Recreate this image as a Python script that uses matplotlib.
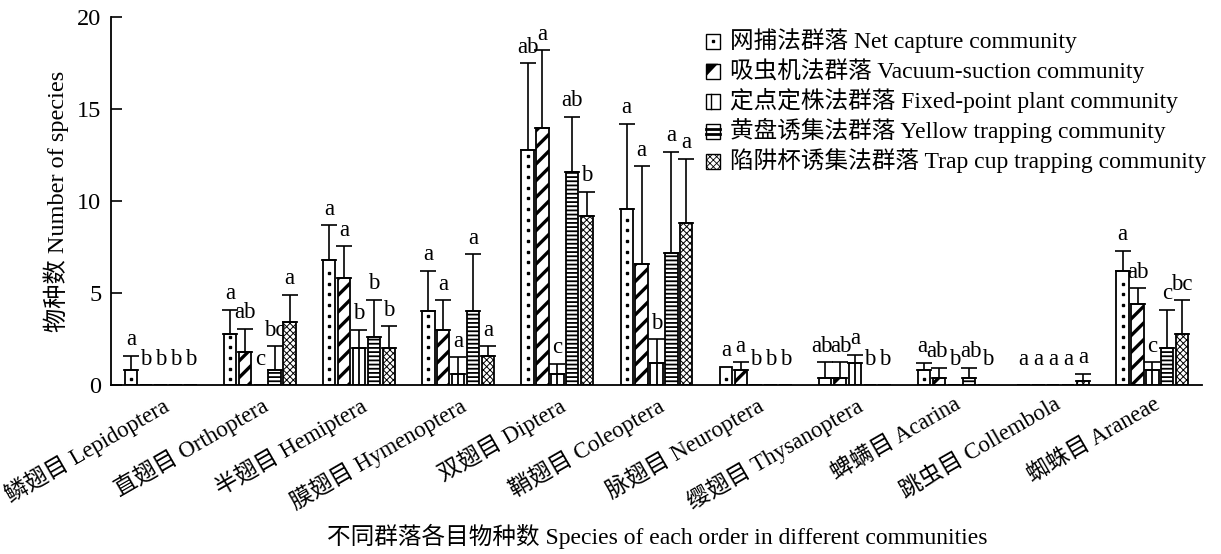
import numpy as np
import matplotlib
matplotlib.use("Agg")
import matplotlib.pyplot as plt
from matplotlib.patches import Rectangle, Polygon
from matplotlib.lines import Line2D

plt.rcParams['font.family'] = ['Liberation Serif', 'Noto Sans CJK SC']
plt.rcParams['axes.unicode_minus'] = False

orders = ["鳞翅目 Lepidoptera", "直翅目 Orthoptera", "半翅目 Hemiptera",
          "膜翅目 Hymenoptera", "双翅目 Diptera", "鞘翅目 Coleoptera",
          "脉翅目 Neuroptera", "缨翅目 Thysanoptera", "蜱螨目 Acarina",
          "跳虫目 Collembola", "蜘蛛目 Araneae"]

series_names = ["网捕法群落 Net capture community",
                "吸虫机法群落 Vacuum-suction community",
                "定点定株法群落 Fixed-point plant community",
                "黄盘诱集法群落 Yellow trapping community",
                "陷阱杯诱集法群落 Trap cup trapping community"]

# mean number of species per order
net_mean = [0.8, 2.8, 6.8, 4.0, 12.8, 9.6, 1.0, 0.4, 0.8, 0.0, 6.2]
vac_mean = [0.0, 1.8, 5.8, 3.0, 14.0, 6.6, 0.8, 0.4, 0.4, 0.0, 4.4]
fix_mean = [0.0, 0.0, 2.0, 0.6, 0.6, 1.2, 0.0, 1.2, 0.0, 0.0, 0.8]
yel_mean = [0.0, 0.8, 2.6, 4.0, 11.6, 7.2, 0.0, 0.0, 0.4, 0.0, 2.0]
trp_mean = [0.0, 3.4, 2.0, 1.6, 9.2, 8.8, 0.0, 0.0, 0.0, 0.2, 2.8]

# standard deviations
net_sd = [0.8, 1.3, 1.9, 2.2, 4.7, 4.6, 0.0, 0.85, 0.4, 0.0, 1.1]
vac_sd = [0.0, 1.25, 1.75, 1.6, 4.2, 5.3, 0.45, 0.85, 0.55, 0.0, 0.85]
fix_sd = [0.0, 0.0, 1.0, 0.9, 0.55, 1.3, 0.0, 0.45, 0.0, 0.0, 0.45]
yel_sd = [0.0, 1.3, 2.05, 3.1, 3.0, 5.5, 0.0, 0.0, 0.55, 0.0, 2.1]
trp_sd = [0.0, 1.5, 1.2, 0.5, 1.3, 3.5, 0.0, 0.0, 0.0, 0.4, 1.8]

# significance letters
net_sig = ["a", "a", "a", "a", "ab", "a", "a", "ab", "a", "a", "a"]
vac_sig = ["b", "ab", "a", "a", "a", "a", "a", "ab", "ab", "a", "ab"]
fix_sig = ["b", "c", "b", "a", "c", "b", "b", "a", "b", "a", "c"]
yel_sig = ["b", "bc", "b", "a", "ab", "a", "b", "b", "ab", "a", "c"]
trp_sig = ["b", "a", "b", "a", "b", "a", "b", "b", "b", "a", "bc"]

means = [net_mean, vac_mean, fix_mean, yel_mean, trp_mean]
sds = [net_sd, vac_sd, fix_sd, yel_sd, trp_sd]
sigs = [net_sig, vac_sig, fix_sig, yel_sig, trp_sig]

kinds = ['dot', 'slash', 'vline', 'hlines', 'checker']
hatches = ['', '//', '', '----', 'xxxxx']
hatch_lws = [1.0, 2.4, 1.0, 1.3, 0.7]

# small horizontal nudges for crowded letters: (series, order) -> dx
letter_nudge = {(0, 7): -0.035, (1, 7): 0.015,
                (0, 8): -0.015, (1, 8): -0.02, (2, 8): 0.01, (3, 8): 0.025,
                (4, 8): 0.04}


class SwatchHandler:
    """Small square legend key carrying the fill pattern of a series."""

    def __init__(self, kind):
        self.kind = kind

    def legend_artist(self, legend, orig_handle, fontsize, handlebox):
        x0, y0 = handlebox.xdescent, handlebox.ydescent
        w, h = handlebox.width, handlebox.height
        tr = handlebox.get_transform()
        arts = []
        rect = Rectangle((x0, y0), w, h, facecolor='white', edgecolor='black',
                         linewidth=1.0, transform=tr)
        if self.kind == 'checker':
            rect.set_hatch('xxxxx')
            if hasattr(rect, 'set_hatch_linewidth'):
                rect.set_hatch_linewidth(0.6)
        arts.append(rect)
        if self.kind == 'dot':
            arts.append(Line2D([x0 + w / 2], [y0 + h / 2], marker='s', ms=2,
                               color='black', transform=tr))
        elif self.kind == 'slash':
            arts.append(Polygon([(x0, y0 + 0.15 * h), (x0, y0 + h),
                                 (x0 + 0.85 * w, y0 + h), (x0 + 0.55 * w, y0 + 0.7 * h),
                                 (x0 + 0.3 * w, y0 + 0.45 * h)],
                                closed=True, facecolor='black', edgecolor='none',
                                transform=tr))
        elif self.kind == 'vline':
            arts.append(Line2D([x0 + 0.38 * w] * 2, [y0, y0 + h], color='black',
                               lw=1.0, transform=tr))
        elif self.kind == 'hlines':
            for f in (0.33, 0.67):
                arts.append(Line2D([x0, x0 + w], [y0 + f * h] * 2, color='black',
                                   lw=2.0, transform=tr))
        for a in arts:
            handlebox.add_artist(a)
        return rect


W, H = 1221, 554
fig = plt.figure(figsize=(W / 100, H / 100), dpi=100)
ax = fig.add_axes([111 / W, 1 - 385 / H, (1202 - 111) / W, (385 - 17.3) / H])

x = np.arange(len(orders))
pitch = 0.15
bw = 0.125
FS = 16.5

proxies = []
for i in range(5):
    pos = x + (i - 2) * pitch
    m = np.array(means[i])
    s = np.array(sds[i])
    with plt.rc_context({'hatch.linewidth': hatch_lws[i], 'hatch.color': 'black'}):
        bars = ax.bar(pos, m, width=bw, color='white', edgecolor='black',
                      linewidth=1.3, hatch=hatches[i] or None, zorder=2)
        for b in bars:
            if hasattr(b, 'set_hatch_linewidth'):
                b.set_hatch_linewidth(hatch_lws[i])
    if kinds[i] == 'vline':
        # single central stripe of the fixed-point pattern
        nz = m > 0
        ax.vlines(pos[nz], 0, m[nz], color='black', linewidth=1.3, zorder=3)
    elif kinds[i] == 'dot':
        # column of small dots inside each net-capture bar
        for p, v in zip(pos, m):
            ys = np.arange(0.3, v - 0.15, 0.58)
            ax.plot(np.full_like(ys, p), ys, ls='none', marker='s', ms=1.8,
                    mfc='black', mec='black', zorder=3)
    proxies.append(Rectangle((0, 0), 1, 1))
    has = s > 0
    ax.errorbar(pos[has], m[has], yerr=[np.zeros(has.sum()), s[has]],
                fmt='none', ecolor='black', elinewidth=1.2, capsize=5.5,
                capthick=1.2, zorder=3)
    for j in range(len(orders)):
        top = max(m[j] + s[j], 0.5)
        dx = letter_nudge.get((i, j), 0.0)
        ax.text(pos[j] + dx, top + 0.3, sigs[i][j], ha='center', va='bottom',
                fontsize=FS)

ax.set_xlim(-0.5, 10.5)
ax.set_ylim(0, 20)
ax.set_yticks([0, 5, 10, 15, 20])
ax.tick_params(axis='y', direction='in', length=8, width=1.2,
               labelsize=FS + 1, pad=7)
ax.set_xticks(x)
ax.set_xticklabels(orders, rotation=30, ha='right', rotation_mode='anchor',
                   fontsize=FS)
ax.tick_params(axis='x', length=0, pad=6)
for sp in ['top', 'right']:
    ax.spines[sp].set_visible(False)
for sp in ['left', 'bottom']:
    ax.spines[sp].set_linewidth(1.3)

ax.set_ylabel("物种数 Number of species", fontsize=FS + 1, labelpad=6)
fig.text(0.538, 0.032, "不同群落各目物种数 Species of each order in different communities",
         ha='center', va='center', fontsize=FS + 0.5)

leg = ax.legend(proxies, series_names, loc='upper left',
                handler_map={p: SwatchHandler(k) for p, k in zip(proxies, kinds)},
                bbox_to_anchor=(706 / W, 1 - 28 / H), bbox_transform=fig.transFigure,
                frameon=False, fontsize=FS + 0.5, handlelength=0.6,
                handleheight=0.6, handletextpad=0.4, labelspacing=0.22,
                borderpad=0, borderaxespad=0)

fig.savefig("out.png", dpi=100)
